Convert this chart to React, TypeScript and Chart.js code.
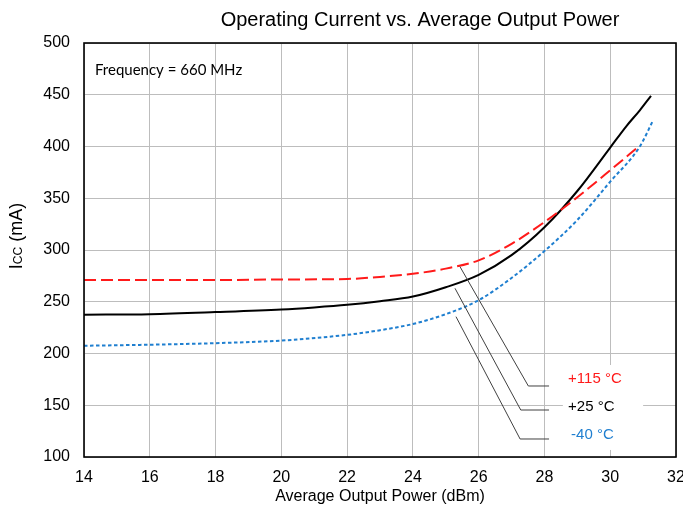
import React, { useEffect, useRef } from "react";
import { Chart, registerables } from "chart.js";

Chart.register(...registerables);

// ---- data ----
const powerHot = [14, 16, 18, 20, 22, 23, 24, 25, 26, 27, 28, 29, 30, 30.9];
const currentHot = [271, 271, 271, 271.5, 272, 274, 277, 282, 290, 306, 327, 351, 377, 401];

const powerRoom = [14, 16, 18, 20, 21, 22, 23, 24, 25, 26, 27, 28, 29, 30, 30.5, 30.9, 31.24];
const currentRoom = [237.5, 238, 240, 242.5, 244.5, 247, 250.5, 255, 264, 276, 295, 322, 357, 399, 420, 435, 449];

const powerCold = [14, 16, 18, 20, 22, 23, 24, 25, 26, 27, 28, 29, 30, 30.9, 31.3];
const currentCold = [207.5, 208.5, 210, 212.5, 218, 222.5, 228.5, 238, 251.5, 273, 299, 329, 366, 400, 425];

const seriesLabels = ["+115 °C", "+25 °C", "-40 °C"];
const seriesColors = ["#ff1a1a", "#000000", "#1f7fd0"];

// leader lines in data coordinates (curve point -> bend -> label)
const leaderHot = [[25.43, 284], [27.51, 168.6], [28.14, 168.6]];
const leaderRoom = [[25.28, 263], [27.28, 145.4], [28.14, 145.4]];
const leaderCold = [[25.31, 235.6], [27.26, 117.4], [28.14, 117.4]];
// white box behind the labels, data coordinates [x0, x1, y0, y1]
const labelBox = [28.56, 31.0, 106.8, 188.9];

const xTicks = [14, 16, 18, 20, 22, 24, 26, 28, 30, 32];
const yTicks = [100, 150, 200, 250, 300, 350, 400, 450, 500];

const titleText = "Operating Current vs. Average Output Power";
const xTitle = "Average Output Power (dBm)";
const noteText = "Frequency = 660 MHz";

const FONT = "'Liberation Sans', Arial, sans-serif";

function toPts(xs: number[], ys: number[]) {
  return xs.map((x, i) => ({ x, y: ys[i] }));
}

const labelDx = [19, 19, 22];
const labelDy = [-7, -3, -4];

const annotPlugin = {
  id: "annot",
  beforeDatasetsDraw(chart: any) {
    const { ctx, scales } = chart;
    const x = scales.x, y = scales.y;
    ctx.save();
    ctx.fillStyle = "#ffffff";
    const l = x.getPixelForValue(labelBox[0]);
    const r = x.getPixelForValue(labelBox[1]);
    const t = y.getPixelForValue(labelBox[3]);
    const b = y.getPixelForValue(labelBox[2]);
    ctx.fillRect(l, t, r - l, b - t);
    ctx.restore();
  },
  afterDatasetsDraw(chart: any) {
    const { ctx, scales, chartArea } = chart;
    const x = scales.x, y = scales.y;
    ctx.save();
    ctx.strokeStyle = "#404040";
    ctx.lineWidth = 1;
    const ends = [leaderHot, leaderRoom, leaderCold];
    ends.forEach((pts) => {
      ctx.beginPath();
      pts.forEach((p, i) => {
        const px = x.getPixelForValue(p[0]);
        const py = y.getPixelForValue(p[1]);
        if (i === 0) ctx.moveTo(px, py);
        else ctx.lineTo(px, py);
      });
      ctx.stroke();
    });
    ctx.font = "15px " + FONT;
    ctx.textBaseline = "middle";
    ctx.textAlign = "left";
    seriesLabels.forEach((s, i) => {
      const e = ends[i][2];
      const px = x.getPixelForValue(e[0]) + labelDx[i];
      const py = y.getPixelForValue(e[1]) + labelDy[i];
      ctx.fillStyle = seriesColors[i];
      ctx.fillText(s, px, py);
    });
    ctx.strokeStyle = "#000";
    ctx.lineWidth = 1.6;
    ctx.strokeRect(chartArea.left, chartArea.top, chartArea.right - chartArea.left, chartArea.bottom - chartArea.top);
    ctx.fillStyle = "#000";
    ctx.font = "15px Lato, sans-serif";
    ctx.textBaseline = "middle";
    ctx.fillText(noteText, chartArea.left + 11, chartArea.top + 27);
    ctx.restore();
  },
  afterDraw(chart: any) {
    const { ctx, chartArea } = chart;
    ctx.save();
    ctx.fillStyle = "#000";
    ctx.textBaseline = "middle";
    ctx.font = "20px " + FONT;
    ctx.textAlign = "center";
    ctx.fillText(titleText, 420, 20);
    ctx.font = "16px " + FONT;
    ctx.fillText(xTitle, (chartArea.left + chartArea.right) / 2, 497);
    ctx.translate(16, 236);
    ctx.rotate(-Math.PI / 2);
    const big = "18px " + FONT;
    const small = "12px " + FONT;
    ctx.font = big;
    const w1 = ctx.measureText("I").width;
    const w3 = ctx.measureText(" (mA)").width;
    ctx.font = small;
    const w2 = ctx.measureText("CC").width;
    const total = w1 + w2 + w3;
    let cx = -total / 2;
    ctx.textAlign = "left";
    ctx.textBaseline = "alphabetic";
    ctx.font = big;
    ctx.fillText("I", cx, 6);
    cx += w1;
    ctx.font = small;
    ctx.fillText("CC", cx, 6);
    cx += w2;
    ctx.font = big;
    ctx.fillText(" (mA)", cx, 6);
    ctx.restore();
  },
};

export default function App() {
  const ref = useRef<HTMLCanvasElement>(null);
  useEffect(() => {
    document.body.style.margin = "0";
    const canvas = ref.current!;
    const chart = new Chart(canvas, {
      type: "line",
      data: {
        datasets: [
          {
            label: seriesLabels[0],
            data: toPts(powerHot, currentHot),
            borderColor: seriesColors[0],
            borderWidth: 2,
            borderDash: [12, 5],
            pointRadius: 0,
            cubicInterpolationMode: "monotone",
            fill: false,
          },
          {
            label: seriesLabels[1],
            data: toPts(powerRoom, currentRoom),
            borderColor: seriesColors[1],
            borderWidth: 2,
            pointRadius: 0,
            cubicInterpolationMode: "monotone",
            fill: false,
          },
          {
            label: seriesLabels[2],
            data: toPts(powerCold, currentCold),
            borderColor: seriesColors[2],
            borderWidth: 2,
            borderDash: [3.5, 2.5],
            pointRadius: 0,
            cubicInterpolationMode: "monotone",
            fill: false,
          },
        ],
      },
      options: {
        responsive: false,
        animation: false,
        devicePixelRatio: 1,
        layout: { padding: { top: 43, right: 7, left: 0, bottom: 0 } },
        plugins: { legend: { display: false }, title: { display: false }, tooltip: { enabled: false } },
        scales: {
          x: {
            type: "linear",
            min: 14,
            max: 32,
            afterBuildTicks: (s: any) => { s.ticks = xTicks.map((v) => ({ value: v })); },
            afterFit: (s: any) => { s.height = 50; s.paddingLeft = 0; s.paddingRight = 0; },
            grid: { color: "#bdbdbd", lineWidth: 1, drawTicks: false },
            border: { display: false },
            ticks: { padding: 11, color: "#000", font: { family: FONT, size: 16 }, maxRotation: 0, autoSkip: false },
          },
          y: {
            type: "linear",
            min: 100,
            max: 500,
            afterBuildTicks: (s: any) => { s.ticks = yTicks.map((v) => ({ value: v })); },
            afterFit: (s: any) => { s.width = 84; s.paddingTop = 0; s.paddingBottom = 0; },
            grid: { color: "#bdbdbd", lineWidth: 1, drawTicks: false },
            border: { display: false },
            ticks: { padding: 14, color: "#000", font: { family: FONT, size: 16 } },
          },
        },
      },
      plugins: [annotPlugin],
    } as any);
    return () => chart.destroy();
  }, []);
  return <canvas ref={ref} width={683} height={507} style={{ display: "block" }} />;
}
